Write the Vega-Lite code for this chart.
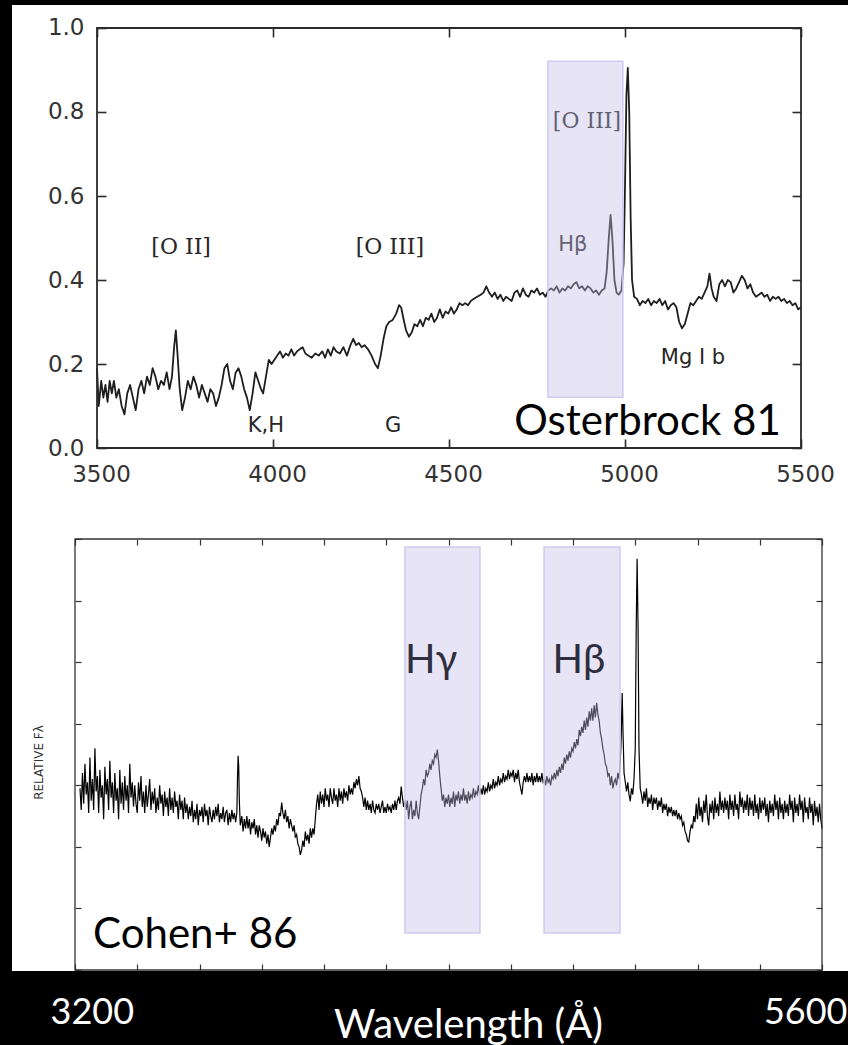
{
"$schema": "https://vega.github.io/schema/vega-lite/v6.json",
"background": "black",
"padding": {"left": 12, "top": 5, "right": 0, "bottom": 12},
"autosize": {"type": "pad"},
"spacing": 0,
"config": {
  "view": {"fill": "white", "stroke": null},
  "axis": {"grid": false, "domain": false, "labelOverlap": false, "labelBound": false, "labelFontWeight": "normal", "titleFontWeight": "normal"}
},
"datasets": {
  "top": [{"w":3500,"f":0.19},{"w":3505,"f":0.10},{"w":3512,"f":0.16},{"w":3518,"f":0.12},{"w":3524,"f":0.15},{"w":3530,"f":0.11},{"w":3536,"f":0.16},{"w":3542,"f":0.13},{"w":3548,"f":0.16},{"w":3555,"f":0.12},{"w":3562,"f":0.14},{"w":3570,"f":0.10},{"w":3578,"f":0.08},{"w":3586,"f":0.13},{"w":3594,"f":0.15},{"w":3602,"f":0.12},{"w":3610,"f":0.09},{"w":3618,"f":0.14},{"w":3626,"f":0.16},{"w":3634,"f":0.13},{"w":3642,"f":0.17},{"w":3650,"f":0.15},{"w":3658,"f":0.19},{"w":3666,"f":0.17},{"w":3674,"f":0.14},{"w":3682,"f":0.16},{"w":3690,"f":0.15},{"w":3698,"f":0.18},{"w":3706,"f":0.14},{"w":3713,"f":0.17},{"w":3719,"f":0.24},{"w":3724,"f":0.28},{"w":3729,"f":0.22},{"w":3735,"f":0.14},{"w":3742,"f":0.09},{"w":3750,"f":0.12},{"w":3758,"f":0.16},{"w":3766,"f":0.14},{"w":3774,"f":0.17},{"w":3782,"f":0.15},{"w":3790,"f":0.12},{"w":3798,"f":0.15},{"w":3806,"f":0.13},{"w":3814,"f":0.11},{"w":3822,"f":0.14},{"w":3830,"f":0.13},{"w":3838,"f":0.10},{"w":3846,"f":0.12},{"w":3854,"f":0.15},{"w":3862,"f":0.19},{"w":3870,"f":0.20},{"w":3878,"f":0.16},{"w":3886,"f":0.14},{"w":3894,"f":0.18},{"w":3902,"f":0.19},{"w":3910,"f":0.17},{"w":3918,"f":0.14},{"w":3926,"f":0.12},{"w":3934,"f":0.09},{"w":3942,"f":0.13},{"w":3950,"f":0.18},{"w":3958,"f":0.16},{"w":3966,"f":0.14},{"w":3972,"f":0.13},{"w":3980,"f":0.17},{"w":3988,"f":0.21},{"w":3996,"f":0.20},{"w":4004,"f":0.21},{"w":4012,"f":0.22},{"w":4020,"f":0.23},{"w":4028,"f":0.215},{"w":4036,"f":0.225},{"w":4044,"f":0.22},{"w":4052,"f":0.235},{"w":4060,"f":0.22},{"w":4068,"f":0.23},{"w":4076,"f":0.235},{"w":4084,"f":0.24},{"w":4092,"f":0.225},{"w":4100,"f":0.22},{"w":4110,"f":0.215},{"w":4120,"f":0.225},{"w":4130,"f":0.22},{"w":4140,"f":0.23},{"w":4148,"f":0.215},{"w":4156,"f":0.235},{"w":4164,"f":0.22},{"w":4172,"f":0.24},{"w":4180,"f":0.23},{"w":4190,"f":0.225},{"w":4200,"f":0.24},{"w":4210,"f":0.22},{"w":4220,"f":0.245},{"w":4228,"f":0.26},{"w":4236,"f":0.245},{"w":4244,"f":0.25},{"w":4252,"f":0.24},{"w":4260,"f":0.245},{"w":4270,"f":0.235},{"w":4280,"f":0.22},{"w":4290,"f":0.20},{"w":4298,"f":0.19},{"w":4306,"f":0.22},{"w":4314,"f":0.26},{"w":4322,"f":0.29},{"w":4330,"f":0.30},{"w":4340,"f":0.305},{"w":4350,"f":0.32},{"w":4358,"f":0.34},{"w":4364,"f":0.335},{"w":4370,"f":0.31},{"w":4378,"f":0.28},{"w":4386,"f":0.265},{"w":4394,"f":0.275},{"w":4402,"f":0.295},{"w":4410,"f":0.29},{"w":4418,"f":0.305},{"w":4426,"f":0.29},{"w":4434,"f":0.31},{"w":4442,"f":0.305},{"w":4450,"f":0.32},{"w":4458,"f":0.30},{"w":4466,"f":0.31},{"w":4474,"f":0.33},{"w":4482,"f":0.31},{"w":4490,"f":0.325},{"w":4498,"f":0.32},{"w":4506,"f":0.335},{"w":4514,"f":0.32},{"w":4522,"f":0.33},{"w":4530,"f":0.345},{"w":4538,"f":0.34},{"w":4546,"f":0.345},{"w":4554,"f":0.34},{"w":4562,"f":0.35},{"w":4570,"f":0.355},{"w":4580,"f":0.36},{"w":4590,"f":0.365},{"w":4598,"f":0.37},{"w":4606,"f":0.385},{"w":4614,"f":0.37},{"w":4622,"f":0.36},{"w":4630,"f":0.37},{"w":4638,"f":0.355},{"w":4646,"f":0.365},{"w":4654,"f":0.35},{"w":4662,"f":0.36},{"w":4670,"f":0.355},{"w":4678,"f":0.35},{"w":4686,"f":0.37},{"w":4694,"f":0.375},{"w":4702,"f":0.36},{"w":4710,"f":0.38},{"w":4718,"f":0.365},{"w":4726,"f":0.36},{"w":4734,"f":0.375},{"w":4742,"f":0.37},{"w":4750,"f":0.38},{"w":4758,"f":0.365},{"w":4766,"f":0.37},{"w":4774,"f":0.36},{"w":4782,"f":0.375},{"w":4790,"f":0.38},{"w":4798,"f":0.375},{"w":4806,"f":0.385},{"w":4814,"f":0.37},{"w":4822,"f":0.38},{"w":4830,"f":0.375},{"w":4838,"f":0.385},{"w":4846,"f":0.38},{"w":4854,"f":0.39},{"w":4862,"f":0.395},{"w":4870,"f":0.38},{"w":4878,"f":0.385},{"w":4886,"f":0.375},{"w":4894,"f":0.385},{"w":4902,"f":0.38},{"w":4910,"f":0.37},{"w":4918,"f":0.375},{"w":4926,"f":0.365},{"w":4934,"f":0.375},{"w":4942,"f":0.38},{"w":4948,"f":0.42},{"w":4954,"f":0.50},{"w":4959,"f":0.555},{"w":4964,"f":0.50},{"w":4970,"f":0.40},{"w":4976,"f":0.37},{"w":4982,"f":0.365},{"w":4990,"f":0.375},{"w":4996,"f":0.44},{"w":5000,"f":0.62},{"w":5004,"f":0.84},{"w":5008,"f":0.905},{"w":5012,"f":0.80},{"w":5016,"f":0.55},{"w":5020,"f":0.40},{"w":5026,"f":0.36},{"w":5034,"f":0.355},{"w":5042,"f":0.34},{"w":5050,"f":0.35},{"w":5058,"f":0.345},{"w":5066,"f":0.355},{"w":5074,"f":0.34},{"w":5082,"f":0.35},{"w":5090,"f":0.345},{"w":5098,"f":0.355},{"w":5106,"f":0.34},{"w":5114,"f":0.35},{"w":5122,"f":0.33},{"w":5130,"f":0.34},{"w":5138,"f":0.345},{"w":5146,"f":0.335},{"w":5154,"f":0.30},{"w":5162,"f":0.285},{"w":5170,"f":0.295},{"w":5178,"f":0.32},{"w":5186,"f":0.345},{"w":5194,"f":0.34},{"w":5202,"f":0.35},{"w":5210,"f":0.36},{"w":5218,"f":0.355},{"w":5226,"f":0.37},{"w":5234,"f":0.385},{"w":5240,"f":0.415},{"w":5246,"f":0.38},{"w":5252,"f":0.36},{"w":5260,"f":0.35},{"w":5268,"f":0.39},{"w":5276,"f":0.40},{"w":5284,"f":0.385},{"w":5292,"f":0.40},{"w":5300,"f":0.395},{"w":5308,"f":0.37},{"w":5316,"f":0.38},{"w":5324,"f":0.395},{"w":5332,"f":0.41},{"w":5340,"f":0.40},{"w":5348,"f":0.38},{"w":5356,"f":0.39},{"w":5364,"f":0.37},{"w":5372,"f":0.36},{"w":5380,"f":0.365},{"w":5388,"f":0.37},{"w":5396,"f":0.36},{"w":5404,"f":0.365},{"w":5412,"f":0.35},{"w":5420,"f":0.36},{"w":5428,"f":0.355},{"w":5436,"f":0.36},{"w":5444,"f":0.35},{"w":5452,"f":0.355},{"w":5460,"f":0.345},{"w":5468,"f":0.35},{"w":5476,"f":0.34},{"w":5484,"f":0.345},{"w":5492,"f":0.33},{"w":5500,"f":0.335}],
  "bot": [{"w":3216,"f":2.95},{"w":3220,"f":2.60},{"w":3224,"f":3.20},{"w":3228,"f":2.70},{"w":3232,"f":3.35},{"w":3236,"f":2.85},{"w":3240,"f":3.05},{"w":3244,"f":2.55},{"w":3248,"f":3.45},{"w":3252,"f":2.75},{"w":3256,"f":3.10},{"w":3260,"f":2.60},{"w":3264,"f":3.60},{"w":3268,"f":2.90},{"w":3272,"f":3.15},{"w":3276,"f":2.55},{"w":3280,"f":3.25},{"w":3284,"f":2.80},{"w":3288,"f":3.00},{"w":3292,"f":2.45},{"w":3296,"f":3.30},{"w":3300,"f":2.85},{"w":3304,"f":3.10},{"w":3308,"f":2.60},{"w":3312,"f":3.40},{"w":3316,"f":2.80},{"w":3320,"f":3.05},{"w":3324,"f":2.55},{"w":3328,"f":3.20},{"w":3332,"f":2.75},{"w":3336,"f":2.95},{"w":3340,"f":2.45},{"w":3344,"f":3.25},{"w":3348,"f":2.70},{"w":3352,"f":3.05},{"w":3356,"f":2.60},{"w":3360,"f":3.15},{"w":3364,"f":2.75},{"w":3368,"f":3.00},{"w":3372,"f":2.55},{"w":3376,"f":3.35},{"w":3380,"f":2.80},{"w":3384,"f":3.05},{"w":3388,"f":2.65},{"w":3392,"f":3.00},{"w":3396,"f":2.70},{"w":3400,"f":2.55},{"w":3404,"f":3.05},{"w":3408,"f":2.75},{"w":3412,"f":3.15},{"w":3416,"f":2.65},{"w":3420,"f":2.90},{"w":3424,"f":2.55},{"w":3428,"f":3.00},{"w":3432,"f":2.65},{"w":3436,"f":2.85},{"w":3440,"f":3.10},{"w":3444,"f":2.60},{"w":3448,"f":2.90},{"w":3452,"f":2.70},{"w":3456,"f":2.95},{"w":3460,"f":2.55},{"w":3464,"f":2.80},{"w":3468,"f":2.60},{"w":3472,"f":3.00},{"w":3476,"f":2.70},{"w":3480,"f":2.85},{"w":3484,"f":2.50},{"w":3488,"f":2.90},{"w":3492,"f":2.65},{"w":3496,"f":2.80},{"w":3500,"f":2.50},{"w":3504,"f":2.95},{"w":3508,"f":2.60},{"w":3512,"f":2.80},{"w":3516,"f":2.55},{"w":3520,"f":2.90},{"w":3524,"f":2.65},{"w":3528,"f":2.75},{"w":3532,"f":2.45},{"w":3536,"f":2.85},{"w":3540,"f":2.60},{"w":3544,"f":2.75},{"w":3548,"f":2.45},{"w":3552,"f":2.80},{"w":3556,"f":2.55},{"w":3560,"f":2.70},{"w":3564,"f":2.45},{"w":3568,"f":2.65},{"w":3572,"f":2.50},{"w":3576,"f":2.75},{"w":3580,"f":2.40},{"w":3584,"f":2.60},{"w":3588,"f":2.45},{"w":3592,"f":2.70},{"w":3596,"f":2.35},{"w":3600,"f":2.60},{"w":3604,"f":2.50},{"w":3608,"f":2.65},{"w":3612,"f":2.40},{"w":3616,"f":2.70},{"w":3620,"f":2.50},{"w":3624,"f":2.60},{"w":3628,"f":2.35},{"w":3632,"f":2.65},{"w":3636,"f":2.50},{"w":3640,"f":2.40},{"w":3644,"f":2.60},{"w":3648,"f":2.45},{"w":3652,"f":2.65},{"w":3656,"f":2.50},{"w":3660,"f":2.70},{"w":3664,"f":2.40},{"w":3668,"f":2.55},{"w":3672,"f":2.45},{"w":3676,"f":2.65},{"w":3680,"f":2.40},{"w":3684,"f":2.55},{"w":3688,"f":2.60},{"w":3692,"f":2.35},{"w":3696,"f":2.55},{"w":3700,"f":2.40},{"w":3704,"f":2.60},{"w":3708,"f":2.45},{"w":3712,"f":2.55},{"w":3716,"f":2.40},{"w":3720,"f":2.55},{"w":3722,"f":3.10},{"w":3724,"f":3.48},{"w":3726,"f":3.30},{"w":3728,"f":2.75},{"w":3731,"f":2.35},{"w":3736,"f":2.50},{"w":3740,"f":2.25},{"w":3744,"f":2.45},{"w":3748,"f":2.30},{"w":3752,"f":2.50},{"w":3756,"f":2.30},{"w":3760,"f":2.45},{"w":3764,"f":2.20},{"w":3768,"f":2.40},{"w":3772,"f":2.30},{"w":3776,"f":2.45},{"w":3780,"f":2.20},{"w":3784,"f":2.35},{"w":3788,"f":2.15},{"w":3792,"f":2.35},{"w":3796,"f":2.25},{"w":3800,"f":2.10},{"w":3804,"f":2.30},{"w":3808,"f":2.15},{"w":3812,"f":2.25},{"w":3816,"f":2.05},{"w":3820,"f":2.20},{"w":3824,"f":2.00},{"w":3828,"f":2.15},{"w":3832,"f":2.30},{"w":3836,"f":2.20},{"w":3840,"f":2.35},{"w":3844,"f":2.25},{"w":3848,"f":2.45},{"w":3852,"f":2.35},{"w":3856,"f":2.55},{"w":3860,"f":2.50},{"w":3864,"f":2.72},{"w":3868,"f":2.55},{"w":3872,"f":2.45},{"w":3876,"f":2.60},{"w":3880,"f":2.40},{"w":3884,"f":2.50},{"w":3888,"f":2.30},{"w":3892,"f":2.45},{"w":3896,"f":2.35},{"w":3900,"f":2.25},{"w":3904,"f":2.35},{"w":3908,"f":2.15},{"w":3912,"f":2.20},{"w":3916,"f":2.05},{"w":3920,"f":2.00},{"w":3924,"f":1.87},{"w":3928,"f":1.95},{"w":3932,"f":2.10},{"w":3936,"f":2.00},{"w":3940,"f":2.25},{"w":3944,"f":2.10},{"w":3948,"f":2.20},{"w":3952,"f":2.05},{"w":3956,"f":2.30},{"w":3960,"f":2.15},{"w":3964,"f":2.30},{"w":3968,"f":2.20},{"w":3972,"f":2.45},{"w":3976,"f":2.70},{"w":3980,"f":2.85},{"w":3984,"f":2.60},{"w":3988,"f":2.90},{"w":3992,"f":2.70},{"w":3996,"f":2.85},{"w":4000,"f":2.65},{"w":4004,"f":2.95},{"w":4008,"f":2.75},{"w":4012,"f":2.85},{"w":4016,"f":2.65},{"w":4020,"f":2.95},{"w":4024,"f":2.80},{"w":4028,"f":2.70},{"w":4032,"f":2.95},{"w":4036,"f":2.75},{"w":4040,"f":2.85},{"w":4044,"f":2.65},{"w":4048,"f":2.95},{"w":4052,"f":2.75},{"w":4056,"f":2.90},{"w":4060,"f":2.70},{"w":4064,"f":2.95},{"w":4068,"f":2.80},{"w":4072,"f":2.90},{"w":4076,"f":2.75},{"w":4080,"f":3.00},{"w":4084,"f":2.85},{"w":4088,"f":2.95},{"w":4092,"f":2.85},{"w":4096,"f":3.05},{"w":4100,"f":2.95},{"w":4104,"f":3.10},{"w":4108,"f":3.00},{"w":4112,"f":3.15},{"w":4116,"f":2.95},{"w":4120,"f":2.90},{"w":4124,"f":2.80},{"w":4128,"f":2.65},{"w":4132,"f":2.80},{"w":4136,"f":2.60},{"w":4140,"f":2.75},{"w":4144,"f":2.60},{"w":4148,"f":2.70},{"w":4152,"f":2.55},{"w":4156,"f":2.75},{"w":4160,"f":2.60},{"w":4164,"f":2.55},{"w":4168,"f":2.70},{"w":4172,"f":2.60},{"w":4176,"f":2.70},{"w":4180,"f":2.55},{"w":4184,"f":2.65},{"w":4188,"f":2.75},{"w":4192,"f":2.55},{"w":4196,"f":2.65},{"w":4200,"f":2.55},{"w":4204,"f":2.70},{"w":4208,"f":2.60},{"w":4212,"f":2.65},{"w":4216,"f":2.55},{"w":4220,"f":2.70},{"w":4224,"f":2.60},{"w":4228,"f":2.75},{"w":4232,"f":2.60},{"w":4236,"f":2.75},{"w":4240,"f":2.80},{"w":4244,"f":2.70},{"w":4248,"f":2.98},{"w":4252,"f":2.80},{"w":4256,"f":2.65},{"w":4260,"f":2.75},{"w":4264,"f":2.60},{"w":4268,"f":2.75},{"w":4272,"f":2.45},{"w":4276,"f":2.65},{"w":4280,"f":2.75},{"w":4284,"f":2.45},{"w":4288,"f":2.60},{"w":4292,"f":2.50},{"w":4296,"f":2.75},{"w":4300,"f":2.55},{"w":4304,"f":2.45},{"w":4308,"f":2.65},{"w":4312,"f":2.85},{"w":4316,"f":2.95},{"w":4320,"f":3.10},{"w":4324,"f":3.00},{"w":4328,"f":3.25},{"w":4332,"f":3.15},{"w":4336,"f":3.20},{"w":4340,"f":3.35},{"w":4344,"f":3.25},{"w":4348,"f":3.40},{"w":4352,"f":3.35},{"w":4356,"f":3.50},{"w":4360,"f":3.45},{"w":4364,"f":3.58},{"w":4368,"f":3.40},{"w":4372,"f":3.15},{"w":4376,"f":2.95},{"w":4380,"f":2.75},{"w":4384,"f":2.85},{"w":4388,"f":2.65},{"w":4392,"f":2.80},{"w":4396,"f":2.70},{"w":4400,"f":2.85},{"w":4404,"f":2.65},{"w":4408,"f":2.80},{"w":4412,"f":2.70},{"w":4416,"f":2.90},{"w":4420,"f":2.65},{"w":4424,"f":2.85},{"w":4428,"f":2.75},{"w":4432,"f":2.90},{"w":4436,"f":2.70},{"w":4440,"f":2.85},{"w":4444,"f":2.75},{"w":4448,"f":2.95},{"w":4452,"f":2.75},{"w":4456,"f":2.85},{"w":4460,"f":2.70},{"w":4464,"f":2.90},{"w":4468,"f":2.75},{"w":4472,"f":2.85},{"w":4476,"f":2.80},{"w":4480,"f":2.95},{"w":4484,"f":2.80},{"w":4488,"f":2.90},{"w":4492,"f":2.85},{"w":4496,"f":3.00},{"w":4500,"f":2.85},{"w":4504,"f":2.95},{"w":4508,"f":2.85},{"w":4512,"f":3.00},{"w":4516,"f":2.85},{"w":4520,"f":2.95},{"w":4524,"f":2.90},{"w":4528,"f":3.05},{"w":4532,"f":2.90},{"w":4536,"f":3.00},{"w":4540,"f":2.95},{"w":4544,"f":3.10},{"w":4548,"f":2.95},{"w":4552,"f":3.05},{"w":4556,"f":3.00},{"w":4560,"f":3.15},{"w":4564,"f":3.00},{"w":4568,"f":3.10},{"w":4572,"f":3.05},{"w":4576,"f":3.20},{"w":4580,"f":3.05},{"w":4584,"f":3.15},{"w":4588,"f":3.10},{"w":4592,"f":3.25},{"w":4596,"f":3.10},{"w":4600,"f":3.20},{"w":4604,"f":3.15},{"w":4608,"f":3.25},{"w":4612,"f":3.05},{"w":4616,"f":3.20},{"w":4620,"f":3.10},{"w":4624,"f":3.25},{"w":4628,"f":3.05},{"w":4632,"f":2.95},{"w":4636,"f":2.85},{"w":4640,"f":3.05},{"w":4644,"f":3.15},{"w":4648,"f":3.05},{"w":4652,"f":3.20},{"w":4656,"f":3.05},{"w":4660,"f":3.15},{"w":4664,"f":3.05},{"w":4668,"f":3.20},{"w":4672,"f":3.00},{"w":4676,"f":3.15},{"w":4680,"f":3.05},{"w":4684,"f":3.20},{"w":4688,"f":3.05},{"w":4692,"f":3.15},{"w":4696,"f":3.05},{"w":4700,"f":3.20},{"w":4704,"f":3.05},{"w":4708,"f":3.10},{"w":4712,"f":3.00},{"w":4716,"f":3.15},{"w":4720,"f":3.05},{"w":4724,"f":3.10},{"w":4728,"f":3.00},{"w":4732,"f":3.15},{"w":4736,"f":3.10},{"w":4740,"f":3.20},{"w":4744,"f":3.10},{"w":4748,"f":3.25},{"w":4752,"f":3.15},{"w":4756,"f":3.30},{"w":4760,"f":3.20},{"w":4764,"f":3.35},{"w":4768,"f":3.25},{"w":4772,"f":3.45},{"w":4776,"f":3.35},{"w":4780,"f":3.50},{"w":4784,"f":3.40},{"w":4788,"f":3.55},{"w":4792,"f":3.45},{"w":4796,"f":3.60},{"w":4800,"f":3.55},{"w":4804,"f":3.70},{"w":4808,"f":3.60},{"w":4812,"f":3.75},{"w":4816,"f":3.65},{"w":4820,"f":3.90},{"w":4824,"f":3.80},{"w":4828,"f":3.95},{"w":4832,"f":3.85},{"w":4836,"f":4.05},{"w":4840,"f":3.90},{"w":4844,"f":4.10},{"w":4848,"f":3.95},{"w":4852,"f":4.20},{"w":4856,"f":4.05},{"w":4860,"f":4.25},{"w":4864,"f":4.05},{"w":4868,"f":4.30},{"w":4872,"f":4.10},{"w":4876,"f":4.34},{"w":4880,"f":4.15},{"w":4884,"f":4.05},{"w":4888,"f":3.85},{"w":4892,"f":3.75},{"w":4896,"f":3.60},{"w":4900,"f":3.50},{"w":4904,"f":3.35},{"w":4908,"f":3.30},{"w":4912,"f":3.15},{"w":4916,"f":3.20},{"w":4920,"f":3.00},{"w":4924,"f":3.15},{"w":4928,"f":2.95},{"w":4932,"f":3.05},{"w":4936,"f":3.10},{"w":4940,"f":3.00},{"w":4944,"f":3.20},{"w":4948,"f":3.10},{"w":4952,"f":3.40},{"w":4955,"f":3.80},{"w":4958,"f":4.50},{"w":4961,"f":3.80},{"w":4964,"f":3.20},{"w":4968,"f":3.05},{"w":4972,"f":2.90},{"w":4976,"f":3.05},{"w":4980,"f":2.85},{"w":4984,"f":2.74},{"w":4988,"f":2.95},{"w":4992,"f":2.85},{"w":4996,"f":3.10},{"w":5000,"f":3.60},{"w":5003,"f":5.50},{"w":5006,"f":6.68},{"w":5009,"f":5.60},{"w":5012,"f":3.60},{"w":5016,"f":2.95},{"w":5020,"f":2.85},{"w":5024,"f":2.70},{"w":5028,"f":2.90},{"w":5032,"f":2.75},{"w":5036,"f":2.95},{"w":5040,"f":2.65},{"w":5044,"f":2.80},{"w":5048,"f":2.70},{"w":5052,"f":2.85},{"w":5056,"f":2.60},{"w":5060,"f":2.80},{"w":5064,"f":2.70},{"w":5068,"f":2.80},{"w":5072,"f":2.60},{"w":5076,"f":2.75},{"w":5080,"f":2.65},{"w":5084,"f":2.80},{"w":5088,"f":2.55},{"w":5092,"f":2.70},{"w":5096,"f":2.60},{"w":5100,"f":2.70},{"w":5104,"f":2.50},{"w":5108,"f":2.65},{"w":5112,"f":2.55},{"w":5116,"f":2.65},{"w":5120,"f":2.50},{"w":5124,"f":2.60},{"w":5128,"f":2.50},{"w":5132,"f":2.60},{"w":5136,"f":2.45},{"w":5140,"f":2.55},{"w":5144,"f":2.45},{"w":5148,"f":2.50},{"w":5152,"f":2.35},{"w":5156,"f":2.40},{"w":5160,"f":2.25},{"w":5164,"f":2.20},{"w":5168,"f":2.10},{"w":5172,"f":2.08},{"w":5176,"f":2.25},{"w":5180,"f":2.35},{"w":5184,"f":2.30},{"w":5188,"f":2.50},{"w":5192,"f":2.40},{"w":5196,"f":2.70},{"w":5200,"f":2.45},{"w":5204,"f":2.80},{"w":5208,"f":2.50},{"w":5212,"f":2.65},{"w":5216,"f":2.40},{"w":5220,"f":2.75},{"w":5224,"f":2.55},{"w":5228,"f":2.85},{"w":5232,"f":2.50},{"w":5236,"f":2.35},{"w":5240,"f":2.70},{"w":5244,"f":2.55},{"w":5248,"f":2.75},{"w":5252,"f":2.45},{"w":5256,"f":2.80},{"w":5260,"f":2.55},{"w":5264,"f":2.70},{"w":5268,"f":2.50},{"w":5272,"f":2.90},{"w":5276,"f":2.60},{"w":5280,"f":2.75},{"w":5284,"f":2.55},{"w":5288,"f":2.80},{"w":5292,"f":2.60},{"w":5296,"f":2.75},{"w":5300,"f":2.45},{"w":5304,"f":2.85},{"w":5308,"f":2.60},{"w":5312,"f":2.75},{"w":5316,"f":2.50},{"w":5320,"f":2.85},{"w":5324,"f":2.60},{"w":5328,"f":2.70},{"w":5332,"f":2.45},{"w":5336,"f":2.90},{"w":5340,"f":2.65},{"w":5344,"f":2.80},{"w":5348,"f":2.55},{"w":5352,"f":2.75},{"w":5356,"f":2.60},{"w":5360,"f":2.85},{"w":5364,"f":2.50},{"w":5368,"f":2.80},{"w":5372,"f":2.60},{"w":5376,"f":2.75},{"w":5380,"f":2.50},{"w":5384,"f":2.85},{"w":5388,"f":2.55},{"w":5392,"f":2.70},{"w":5396,"f":2.45},{"w":5400,"f":2.80},{"w":5404,"f":2.55},{"w":5408,"f":2.75},{"w":5412,"f":2.60},{"w":5416,"f":2.80},{"w":5420,"f":2.50},{"w":5424,"f":2.70},{"w":5428,"f":2.40},{"w":5432,"f":2.75},{"w":5436,"f":2.55},{"w":5440,"f":2.70},{"w":5444,"f":2.50},{"w":5448,"f":2.85},{"w":5452,"f":2.60},{"w":5456,"f":2.75},{"w":5460,"f":2.45},{"w":5464,"f":2.80},{"w":5468,"f":2.55},{"w":5472,"f":2.70},{"w":5476,"f":2.45},{"w":5480,"f":2.75},{"w":5484,"f":2.55},{"w":5488,"f":2.70},{"w":5492,"f":2.50},{"w":5496,"f":2.85},{"w":5500,"f":2.60},{"w":5504,"f":2.75},{"w":5508,"f":2.40},{"w":5512,"f":2.80},{"w":5516,"f":2.55},{"w":5520,"f":2.70},{"w":5524,"f":2.50},{"w":5528,"f":2.85},{"w":5532,"f":2.60},{"w":5536,"f":2.75},{"w":5540,"f":2.40},{"w":5544,"f":2.80},{"w":5548,"f":2.55},{"w":5552,"f":2.65},{"w":5556,"f":2.45},{"w":5560,"f":2.80},{"w":5564,"f":2.55},{"w":5568,"f":2.70},{"w":5572,"f":2.35},{"w":5576,"f":2.75},{"w":5580,"f":2.50},{"w":5584,"f":2.65},{"w":5588,"f":2.40},{"w":5592,"f":2.70},{"w":5596,"f":2.45},{"w":5600,"f":2.30}]
},
"vconcat": [
  {
    "width": 836,
    "height": 500,
    "resolve": {"axis": {"x": "independent", "y": "independent"}},
    "layer": [
      {
        "data": {"values": [{"w": 3739, "f": 0.479, "t": "[O II]"}, {"w": 4332, "f": 0.479, "t": "[O III]"}, {"w": 4892, "f": 0.779, "t": "[O III]"}]},
        "mark": {"type": "text", "font": "DejaVu Serif", "fontSize": 22, "color": "#262626", "baseline": "middle", "align": "center"},
        "encoding": {
          "x": {"field": "w", "type": "quantitative", "scale": {"domain": [3258.52, 5633.52], "nice": false, "zero": false}, "axis": null},
          "y": {"field": "f", "type": "quantitative", "scale": {"domain": [-0.13571, 1.05476], "nice": false, "zero": false}, "axis": null},
          "text": {"field": "t"}
        }
      },
      {
        "data": {"values": [{"w": 3980, "f": 0.052, "t": "K,H"}, {"w": 4341, "f": 0.052, "t": "G"}, {"w": 4852, "f": 0.483, "t": "Hβ"}, {"w": 5193, "f": 0.214, "t": "Mg I b"}]},
        "mark": {"type": "text", "font": "DejaVu Sans", "fontSize": 21, "color": "#262626", "baseline": "middle", "align": "center"},
        "encoding": {
          "x": {"field": "w", "type": "quantitative", "scale": {"domain": [3258.52, 5633.52], "nice": false, "zero": false}, "axis": null},
          "y": {"field": "f", "type": "quantitative", "scale": {"domain": [-0.13571, 1.05476], "nice": false, "zero": false}, "axis": null},
          "text": {"field": "t"}
        }
      },
      {
        "data": {"name": "top"},
        "mark": {"type": "line", "color": "#1e1e1e", "strokeWidth": 1.8, "strokeJoin": "round"},
        "encoding": {
          "x": {"field": "w", "type": "quantitative", "scale": {"domain": [3258.52, 5633.52], "nice": false, "zero": false},
                "axis": {"orient": "bottom", "offset": -57, "values": [3500, 4000, 4500, 5000, 5500], "format": "d", "tickSize": -9, "tickWidth": 1.6, "tickColor": "#2b2b2b", "labelFont": "DejaVu Sans", "labelFontSize": 23, "labelColor": "#333333", "labelPadding": 42, "labelBaseline": "alphabetic", "labelFlush": false, "labelOffset": 4, "title": null}},
          "y": {"field": "f", "type": "quantitative", "scale": {"domain": [-0.13571, 1.05476], "nice": false, "zero": false},
                "axis": {"orient": "left", "offset": -85, "values": [0, 0.2, 0.4, 0.6, 0.8, 1.0], "format": ".1f", "tickSize": -9, "tickWidth": 1.6, "tickColor": "#2b2b2b", "labelFont": "DejaVu Sans", "labelFontSize": 23, "labelColor": "#333333", "labelPadding": 22, "title": null}}
        }
      },
      {
        "data": {"values": [{"x0": 4781, "x1": 4994, "y0": 0.121, "y1": 0.921}]},
        "mark": {"type": "rect", "fill": "#c0bbe6", "fillOpacity": 0.4, "stroke": "#cfcaf0", "strokeWidth": 1.5},
        "encoding": {
          "x": {"field": "x0", "type": "quantitative", "scale": {"domain": [3258.52, 5633.52], "nice": false, "zero": false}, "axis": null},
          "x2": {"field": "x1"},
          "y": {"field": "y0", "type": "quantitative", "scale": {"domain": [-0.13571, 1.05476], "nice": false, "zero": false}, "axis": null},
          "y2": {"field": "y1"}
        }
      },
      {
        "data": {"values": [{"x0": 3500, "x1": 5500, "y0": 0, "y1": 1}]},
        "mark": {"type": "rect", "filled": false, "stroke": "#2b2b2b", "strokeWidth": 1.8},
        "encoding": {
          "x": {"field": "x0", "type": "quantitative", "scale": {"domain": [3258.52, 5633.52], "nice": false, "zero": false},
                "axis": {"orient": "top", "offset": -23, "values": [3500, 4000, 4500, 5000, 5500], "tickSize": -9, "tickWidth": 1.6, "tickColor": "#2b2b2b", "labels": false, "title": null}},
          "x2": {"field": "x1"},
          "y": {"field": "y0", "type": "quantitative", "scale": {"domain": [-0.13571, 1.05476], "nice": false, "zero": false},
                "axis": {"orient": "right", "offset": -47, "values": [0, 0.2, 0.4, 0.6, 0.8, 1.0], "tickSize": -9, "tickWidth": 1.6, "tickColor": "#2b2b2b", "labels": false, "title": null}},
          "y2": {"field": "y1"}
        }
      },
      {
        "data": {"values": [{"w": 5064, "f": 0.031, "t": "Osterbrock 81"}]},
        "mark": {"type": "text", "font": "Lato, Open Sans", "fontSize": 42, "color": "black", "baseline": "alphabetic", "align": "center"},
        "encoding": {
          "x": {"field": "w", "type": "quantitative", "scale": {"domain": [3258.52, 5633.52], "nice": false, "zero": false}, "axis": null},
          "y": {"field": "f", "type": "quantitative", "scale": {"domain": [-0.13571, 1.05476], "nice": false, "zero": false}, "axis": null},
          "text": {"field": "t"}
        }
      }
    ]
  },
  {
    "width": 836,
    "height": 466,
    "resolve": {"axis": {"x": "independent", "y": "independent"}},
    "layer": [
      {
        "data": {"name": "bot"},
        "mark": {"type": "line", "color": "black", "strokeWidth": 1.2, "strokeJoin": "miter"},
        "encoding": {
          "x": {"field": "w", "type": "quantitative", "scale": {"domain": [2997.59, 5683.53], "nice": false, "zero": false},
                "axis": {"orient": "bottom", "offset": -1, "values": [3200, 3400, 3600, 3800, 4000, 4200, 4400, 4600, 4800, 5000, 5200, 5400, 5600], "format": "d",
                         "labelExpr": "datum.value == 3200 || datum.value == 5600 ? datum.label : ''",
                         "tickSize": -6, "tickWidth": 1.2, "tickColor": "#333333", "labelFont": "Lato, Open Sans", "labelFontSize": 36, "labelColor": "white", "labelPadding": 59, "labelBaseline": "alphabetic", "labelFlush": 70, "labelFlushOffset": 25,
                         "title": "Wavelength (Å)", "titleFont": "Lato, Open Sans", "titleFontSize": 40, "titleColor": "white", "titleX": 456, "titleY": 67, "titleBaseline": "alphabetic", "titleAlign": "center"}},
          "y": {"field": "f", "type": "quantitative", "scale": {"domain": [-0.0162, 7.5522], "nice": false, "zero": false},
                "axis": {"orient": "left", "offset": -63, "values": [0, 1, 2, 3, 4, 5, 6, 7], "tickSize": -6, "tickWidth": 1.2, "tickColor": "#333333", "labels": false,
                         "title": "RELATIVE  Fλ", "titleFont": "DejaVu Sans", "titleFontSize": 12, "titleColor": "#333333", "titleAngle": -90, "titleX": -30, "titleY": 257, "titleBaseline": "bottom", "titleAlign": "center"}}
        }
      },
      {
        "data": {"values": [{"x0": 4260, "x1": 4501, "y0": 0.60, "y1": 6.87}, {"x0": 4707, "x1": 4951, "y0": 0.60, "y1": 6.87}]},
        "mark": {"type": "rect", "fill": "#c0bbe6", "fillOpacity": 0.4, "stroke": "#cfcaf0", "strokeWidth": 1.5},
        "encoding": {
          "x": {"field": "x0", "type": "quantitative", "scale": {"domain": [2997.59, 5683.53], "nice": false, "zero": false}, "axis": null},
          "x2": {"field": "x1"},
          "y": {"field": "y0", "type": "quantitative", "scale": {"domain": [-0.0162, 7.5522], "nice": false, "zero": false}, "axis": null},
          "y2": {"field": "y1"}
        }
      },
      {
        "data": {"values": [{"x0": 3200, "x1": 5600, "y0": 0, "y1": 7}]},
        "mark": {"type": "rect", "filled": false, "stroke": "#333333", "strokeWidth": 1.3},
        "encoding": {
          "x": {"field": "x0", "type": "quantitative", "scale": {"domain": [2997.59, 5683.53], "nice": false, "zero": false},
                "axis": {"orient": "top", "offset": -34, "values": [3200, 3400, 3600, 3800, 4000, 4200, 4400, 4600, 4800, 5000, 5200, 5400, 5600], "tickSize": -6, "tickWidth": 1.2, "tickColor": "#333333", "labels": false, "title": null}},
          "x2": {"field": "x1"},
          "y": {"field": "y0", "type": "quantitative", "scale": {"domain": [-0.0162, 7.5522], "nice": false, "zero": false},
                "axis": {"orient": "right", "offset": -26, "values": [0, 1, 2, 3, 4, 5, 6, 7], "tickSize": -6, "tickWidth": 1.2, "tickColor": "#333333", "labels": false, "title": null}},
          "y2": {"field": "y1"}
        }
      },
      {
        "data": {"values": [{"w": 4344, "f": 4.82, "t": "Hγ"}, {"w": 4819, "f": 4.82, "t": "Hβ"}]},
        "mark": {"type": "text", "font": "Lato, Open Sans", "fontSize": 40, "color": "#2e2e3e", "baseline": "alphabetic", "align": "center"},
        "encoding": {
          "x": {"field": "w", "type": "quantitative", "scale": {"domain": [2997.59, 5683.53], "nice": false, "zero": false}, "axis": null},
          "y": {"field": "f", "type": "quantitative", "scale": {"domain": [-0.0162, 7.5522], "nice": false, "zero": false}, "axis": null},
          "text": {"field": "t"}
        }
      },
      {
        "data": {"values": [{"w": 3258, "f": 0.357, "t": "Cohen+ 86"}]},
        "mark": {"type": "text", "font": "Lato, Open Sans", "fontSize": 42, "color": "black", "baseline": "alphabetic", "align": "left"},
        "encoding": {
          "x": {"field": "w", "type": "quantitative", "scale": {"domain": [2997.59, 5683.53], "nice": false, "zero": false}, "axis": null},
          "y": {"field": "f", "type": "quantitative", "scale": {"domain": [-0.0162, 7.5522], "nice": false, "zero": false}, "axis": null},
          "text": {"field": "t"}
        }
      }
    ]
  }
]
}
